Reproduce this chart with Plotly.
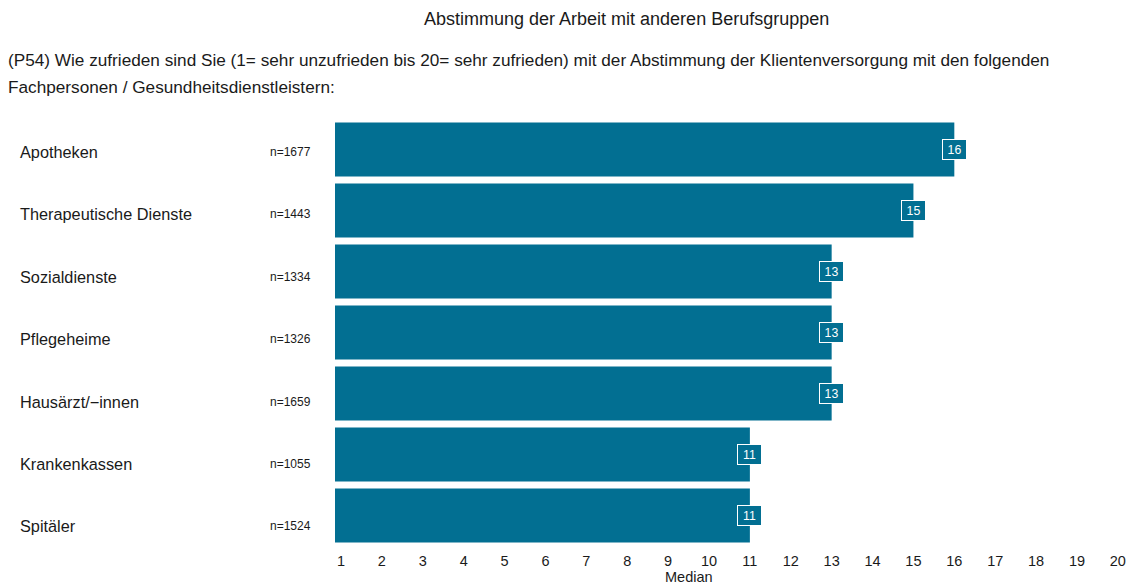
import plotly.graph_objects as go

# Survey results: median satisfaction (1-20) per professional group
categories = ["Apotheken", "Therapeutische Dienste", "Sozialdienste", "Pflegeheime",
              "Hausärzt/−innen", "Krankenkassen", "Spitäler"]
medians = [16, 15, 13, 13, 13, 11, 11]
n_counts = [1677, 1443, 1334, 1326, 1659, 1055, 1524]
tick_values = list(range(1, 21))

title_text = "Abstimmung der Arbeit mit anderen Berufsgruppen"
question_line1 = ("(P54) Wie zufrieden sind Sie (1= sehr unzufrieden bis 20= sehr zufrieden) "
                  "mit der Abstimmung der Klientenversorgung mit den folgenden")
question_line2 = "Fachpersonen / Gesundheitsdienstleistern:"

BAR_COLOR = "#026f92"
TEXT_COLOR = "#1a1a1a"
FONT = "Liberation Sans, Arial, sans-serif"

W, H = 1130, 584
ML, MR, MT, MB = 335, 4, 119, 38
plot_w = W - ML - MR
plot_h = H - MT - MB

# left-hand label column: first row centre and row pitch in pixels
LABEL_Y0 = 152
LABEL_STEP = 62.4


def px_to_paper_x(px):
    return (px - ML) / plot_w


def px_to_paper_y(py):
    return 1 - (py - MT) / plot_h


fig = go.Figure()
fig.add_trace(go.Bar(
    x=medians,
    y=categories,
    orientation="h",
    marker=dict(color=BAR_COLOR, line=dict(width=0)),
    hoverinfo="skip",
))

annotations = []
# category names and sample sizes on the left
for i, (cat, n) in enumerate(zip(categories, n_counts)):
    ypos = px_to_paper_y(LABEL_Y0 + i * LABEL_STEP)
    annotations.append(dict(
        x=px_to_paper_x(17), xref="paper", y=ypos, yref="paper",
        text=cat, showarrow=False, xanchor="left", yanchor="middle",
        font=dict(family=FONT, size=16.3, color=TEXT_COLOR),
    ))
    annotations.append(dict(
        x=px_to_paper_x(268), xref="paper", y=ypos, yref="paper",
        text=f"n={n}", showarrow=False, xanchor="left", yanchor="middle",
        font=dict(family=FONT, size=12, color=TEXT_COLOR),
    ))

# value labels at bar ends
for cat, v in zip(categories, medians):
    annotations.append(dict(
        x=v, xref="x", y=cat, yref="y",
        text=str(v), showarrow=False, xanchor="center", yanchor="middle",
        width=19, height=15,
        font=dict(family=FONT, size=12.3, color="white"),
        bgcolor=BAR_COLOR, bordercolor="white", borderwidth=1, borderpad=2,
    ))

# title and question text
annotations.append(dict(
    x=px_to_paper_x(627), xref="paper", y=px_to_paper_y(19), yref="paper",
    text=title_text, showarrow=False, xanchor="center", yanchor="middle",
    font=dict(family=FONT, size=18, color=TEXT_COLOR),
))
annotations.append(dict(
    x=px_to_paper_x(5), xref="paper", y=px_to_paper_y(60), yref="paper",
    text=question_line1, showarrow=False, xanchor="left", yanchor="middle",
    font=dict(family=FONT, size=17.2, color=TEXT_COLOR),
))
annotations.append(dict(
    x=px_to_paper_x(5), xref="paper", y=px_to_paper_y(87), yref="paper",
    text=question_line2, showarrow=False, xanchor="left", yanchor="middle",
    font=dict(family=FONT, size=17.2, color=TEXT_COLOR),
))
annotations.append(dict(
    x=px_to_paper_x(690), xref="paper", y=px_to_paper_y(577), yref="paper",
    text="Median", showarrow=False, xanchor="center", yanchor="middle",
    font=dict(family=FONT, size=14.5, color=TEXT_COLOR),
))

fig.update_layout(
    width=W, height=H,
    margin=dict(l=ML, r=MR, t=MT, b=MB),
    paper_bgcolor="white", plot_bgcolor="white",
    bargap=0.115,
    showlegend=False,
    annotations=annotations,
    xaxis=dict(
        range=[0.853, 20.15],
        tickvals=tick_values,
        ticktext=[str(t) for t in tick_values],
        showgrid=False, zeroline=False, showline=False, ticks="",
        tickfont=dict(family=FONT, size=14.5, color=TEXT_COLOR),
        ticklabelstandoff=4,
    ),
    yaxis=dict(
        categoryorder="array", categoryarray=categories[::-1],
        showticklabels=False, showgrid=False, zeroline=False, ticks="",
    ),
)

fig.write_html("out.html")
